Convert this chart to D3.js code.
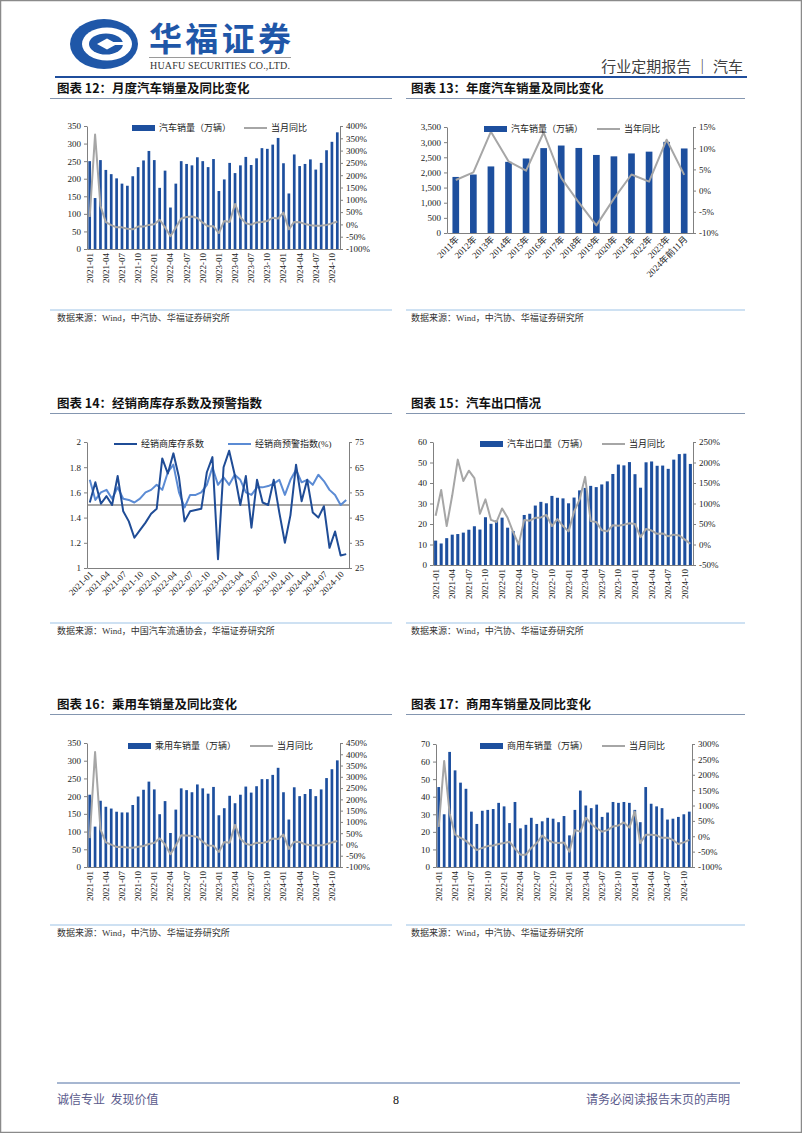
<!DOCTYPE html>
<html><head><meta charset="utf-8">
<script src="https://cdn.jsdelivr.net/npm/d3@7/dist/d3.min.js"></script>
<style>
body{margin:0;background:#fff;}
svg{display:block;}
text{font-family:"Liberation Serif","Times New Roman","Noto Sans CJK SC",serif;}
.cjk{font-family:"Noto Sans CJK SC","Liberation Serif",sans-serif;}
</style></head><body>
<svg id="page" width="802" height="1133"></svg>
<script>
// ---------------- DATA ----------------
const months = [
"2021-01","2021-02","2021-03","2021-04","2021-05","2021-06","2021-07","2021-08","2021-09","2021-10","2021-11","2021-12",
"2022-01","2022-02","2022-03","2022-04","2022-05","2022-06","2022-07","2022-08","2022-09","2022-10","2022-11","2022-12",
"2023-01","2023-02","2023-03","2023-04","2023-05","2023-06","2023-07","2023-08","2023-09","2023-10","2023-11","2023-12",
"2024-01","2024-02","2024-03","2024-04","2024-05","2024-06","2024-07","2024-08","2024-09","2024-10","2024-11"];
const monthTickLabels = ["2021-01","2021-04","2021-07","2021-10","2022-01","2022-04","2022-07","2022-10",
"2023-01","2023-04","2023-07","2023-10","2024-01","2024-04","2024-07","2024-10"];

// Chart 12: monthly auto sales (10k units) and YoY (%)
const autoSales = [250,145,253,225,213,201,186,180,207,233,252,279,
253,174,223,118,186,250,242,238,261,250,233,256,
165,198,245,216,238,262,239,258,287,285,297,316,
244,158,269,236,242,255,226,245,281,305,332];
const autoYoy = [30,365,75,9,-3,-12,-12,-18,-20,-9,-9,-2,
1,19,-12,-48,-13,24,30,32,26,7,-8,-8,
-35,14,10,83,28,5,-1,8,10,14,27,24,
48,-20,10,9,2,-3,-5,-5,-2,4,12];

// Chart 13: annual auto sales and YoY
const years = ["2011年","2012年","2013年","2014年","2015年","2016年","2017年","2018年","2019年","2020年","2021年","2022年","2023年","2024年前11月"];
const annualSales = [1851,1931,2198,2349,2460,2803,2888,2808,2577,2531,2627,2686,3009,2791];
const annualYoy = [2.5,4.3,13.9,6.9,4.7,13.7,3.0,-2.8,-8.2,-1.9,3.8,2.1,12.0,3.7];

// Chart 14: dealer inventory coefficient and dealer warning index
const invCoef = [1.52,1.68,1.51,1.57,1.50,1.73,1.45,1.37,1.24,1.30,1.36,1.43,
1.47,1.87,1.75,1.91,1.72,1.37,1.45,1.46,1.47,1.76,1.88,1.07,
1.80,1.93,1.74,1.50,1.73,1.32,1.70,1.52,1.50,1.70,1.44,1.20,
1.42,1.82,1.53,1.70,1.44,1.40,1.49,1.16,1.29,1.10,1.11];
const warnIdx = [60,52,55,56,52.5,57,52.5,52,51,52.5,55,56,
58,56,63,66,55,49,54,54,55,58,65,58,
61,58,62,60,55,54,57,57,57.5,58.5,60,54,
60,64,59,60,58,62,59.5,56,54,50,52];
const warnLine = 1.5;

// Chart 15: exports
const exportVol = [11.9,10.5,13.1,14.8,15.1,15.8,17.2,18.9,17.3,23.3,20.1,21.7,
23.1,18.2,16.6,11.5,24.4,25.0,29.0,30.8,30.1,33.7,32.8,32.5,
30.1,32.9,36.4,37.6,38.6,38.0,39.3,40.8,44.4,49.0,48.6,50.2,
44.3,37.7,50.1,50.5,48.4,48.5,46.9,51.4,54.1,54.3,49.3];
const exportYoy = [70,133,45,120,207,155,180,162,75,110,60,55,
88,65,30,0,60,58,65,66,72,45,62,45,
32,80,110,165,57,55,35,32,47,46,48,52,
50,18,38,34,26,27,20,24,22,12,2];

// Chart 16: passenger vehicles
const pvSales = [204,114,187,170,165,156,154,154,175,199,218,241,
219,149,186,96,162,222,217,211,233,222,207,226,
146,166,201,180,204,227,210,228,248,248,260,280,
211,134,225,200,206,220,200,219,251,276,301];
const pvYoy = [28,410,67,9,-1,-11,-10,-14,-15,-10,-7,2,
7,27,0,-43,-5,41,40,38,33,12,-5,-6,
-33,11,8,87,25,3,-3,8,6,12,26,24,
44,-20,12,11,1,-3,-5,-4,1,9,15];

// Chart 17: commercial vehicles
const cvSales = [45.5,30,65.5,55,48,44.5,31.5,24.5,32,32.5,33,36.5,
34.5,25,37,22,24,28,24.5,26,28,27.5,25.5,29,
18,32.5,43.5,35,33.5,35.5,28.5,31,37,36.5,37,36.5,
32.5,25.5,45.5,36,34.5,33.5,27,27.5,28.5,30,31.5];
const cvYoy = [30,245,75,5,-5,-15,-30,-45,-38,-32,-30,-25,
-22,-18,-40,-60,-60,-38,-22,2,-13,-20,-22,-20,
-50,20,15,60,40,26,15,20,32,35,45,28,
80,-22,5,5,3,-5,-5,-12,-25,-20,-12];

// tick values
const ticks0to350 = [0,50,100,150,200,250,300,350];
const ticksYoy12 = [-100,-50,0,50,100,150,200,250,300,350,400];
const ticksAnnual = [0,500,1000,1500,2000,2500,3000,3500];
const ticksAnnualYoy = [-10,-5,0,5,10,15];
const ticksCoef = [1,1.2,1.4,1.6,1.8,2];
const ticksWarn = [25,35,45,55,65,75];
const ticksExport = [0,10,20,30,40,50,60];
const ticksExportYoy = [-50,0,50,100,150,200,250];
const ticksPvYoy = [-100,-50,0,50,100,150,200,250,300,350,400,450];
const ticksCv = [0,10,20,30,40,50,60,70];
const ticksCvYoy = [-100,-50,0,50,100,150,200,250,300];

// ---------------- STYLE ----------------
const BAR = "#1d4f9e", GREY_LINE = "#a6a6a6", AXIS = "#808080", TXT = "#222";
const DARK_LINE = "#1f4c96", LIGHT_LINE = "#5b8bd4";

const svg = d3.select("#page");
svg.append("rect").attr("x",0.5).attr("y",0.5).attr("width",801).attr("height",1132)
  .attr("fill","#fff").attr("stroke","#8a8a8a").attr("stroke-width",1.5);

// ---------------- HEADER ----------------
const hdr = svg.append("g");
// logo
hdr.append("ellipse").attr("cx",104).attr("cy",44).attr("rx",34).attr("ry",25).attr("fill","#1f57a8");
hdr.append("ellipse").attr("cx",107).attr("cy",44).attr("rx",25).attr("ry",16.5).attr("fill","#fff");
hdr.append("ellipse").attr("cx",106).attr("cy",44).attr("rx",17).attr("ry",10.5).attr("fill","#1f57a8");
hdr.append("path").attr("d","M97,44 L107,38.5 L117,44 L107,49.5 Z").attr("fill","#fff");
hdr.append("rect").attr("x",107).attr("y",42).attr("width",17).attr("height",3).attr("fill","#fff");
hdr.append("text").attr("class","cjk").attr("x",149).attr("y",51).attr("font-size",33).attr("font-weight",700)
  .attr("fill","#1f57a8").attr("textLength",142).text("华福证券");
hdr.append("line").attr("x1",149).attr("x2",291).attr("y1",57.5).attr("y2",57.5).attr("stroke","#9a9a9a").attr("stroke-width",1);
hdr.append("text").attr("x",150).attr("y",68.5).attr("font-size",10).attr("fill","#333")
  .attr("textLength",140).text("HUAFU SECURITIES CO.,LTD.");
hdr.append("text").attr("class","cjk").attr("x",743).attr("y",72).attr("text-anchor","end").attr("font-size",15)
  .attr("fill","#404040").text("行业定期报告 ｜ 汽车");
hdr.append("line").attr("x1",55).attr("x2",747).attr("y1",77).attr("y2",77).attr("stroke","#1f4e9c").attr("stroke-width",2);

// ---------------- SECTION TITLES / SOURCES ----------------
function section(x0,x1,tx,ty,title,srcY,src){
  svg.append("text").attr("class","cjk").attr("x",tx).attr("y",ty).attr("font-size",12.5).attr("font-weight",700)
    .attr("fill","#111").text(title);
  svg.append("line").attr("x1",x0).attr("x2",x1).attr("y1",ty+5.5).attr("y2",ty+5.5).attr("stroke","#8496b0").attr("stroke-width",1);
  svg.append("line").attr("x1",x0).attr("x2",x1).attr("y1",srcY).attr("y2",srcY).attr("stroke","#9dc3e6").attr("stroke-width",1);
  svg.append("text").attr("x",tx).attr("y",srcY+11).attr("font-size",9).attr("fill","#333").text(src);
}
const SRC = "数据来源：Wind，中汽协、华福证券研究所";
section(50,392,57,93,"图表 12：月度汽车销量及同比变化",310,SRC);
section(406,745,411,93,"图表 13：年度汽车销量及同比变化",310,SRC);
section(50,392,57,408,"图表 14：经销商库存系数及预警指数",623,"数据来源：Wind，中国汽车流通协会，华福证券研究所");
section(406,745,411,408,"图表 15：汽车出口情况",623,SRC);
section(50,392,57,709,"图表 16：乘用车销量及同比变化",925,SRC);
section(406,745,411,709,"图表 17：商用车销量及同比变化",925,SRC);

// ---------------- FOOTER ----------------
svg.append("line").attr("x1",57).attr("x2",740).attr("y1",1083).attr("y2",1083).attr("stroke","#4f6fa3").attr("stroke-width",1);
svg.append("text").attr("class","cjk").attr("x",57).attr("y",1104).attr("font-size",12).attr("fill","#5a5a8c").text("诚信专业\u00a0\u00a0发现价值");
svg.append("text").attr("x",396).attr("y",1104).attr("font-size",12).attr("fill","#111").attr("text-anchor","middle").text("8");
svg.append("text").attr("class","cjk").attr("x",730).attr("y",1104).attr("font-size",12).attr("fill","#5a5a8c").attr("text-anchor","end").text("请务必阅读报告末页的声明");

// ---------------- CHART HELPERS ----------------
function styleAxis(sel){
  sel.select(".domain").attr("stroke",AXIS).attr("stroke-width",1);
  sel.selectAll(".tick line").attr("stroke",AXIS);
  sel.selectAll(".tick text").attr("fill",TXT).attr("font-size",9).attr("font-family",'"Liberation Serif",serif');
}

function chart(cfg){
  const g = svg.append("g");
  const x = d3.scaleBand().domain(cfg.cats).range([cfg.L,cfg.R]).paddingInner(cfg.pad).paddingOuter(cfg.padOuter);
  const cx = d => x(d) + x.bandwidth()/2;
  const yL = d3.scaleLinear().domain(cfg.lDom).range([cfg.B,cfg.T]);
  const yR = d3.scaleLinear().domain(cfg.rDom).range([cfg.B,cfg.T]);

  if(cfg.bars){
    g.append("g").selectAll("rect").data(cfg.bars).join("rect")
      .attr("x",(d,i)=>x(cfg.cats[i])).attr("width",x.bandwidth())
      .attr("y",d=>yL(d)).attr("height",d=>yL(cfg.lDom[0])-yL(d)).attr("fill",BAR);
  }
  if(cfg.hline!==undefined){
    g.append("line").attr("x1",cfg.L).attr("x2",cfg.R).attr("y1",yL(cfg.hline)).attr("y2",yL(cfg.hline))
      .attr("stroke","#a6a6a6").attr("stroke-width",2);
  }
  (cfg.lines||[]).forEach(ln=>{
    const sc = ln.axis==="left"?yL:yR;
    const path = d3.line().x((d,i)=>cx(cfg.cats[i])).y(d=>sc(d));
    g.append("path").datum(ln.data).attr("d",path).attr("fill","none")
      .attr("stroke",ln.color).attr("stroke-width",ln.width||2).attr("stroke-linejoin","round");
  });

  const axL = g.append("g").attr("transform",`translate(${cfg.L},0)`)
    .call(d3.axisLeft(yL).tickValues(cfg.lTicks).tickSize(3).tickSizeOuter(0).tickPadding(3).tickFormat(cfg.lFmt));
  styleAxis(axL);
  const axR = g.append("g").attr("transform",`translate(${cfg.R},0)`)
    .call(d3.axisRight(yR).tickValues(cfg.rTicks).tickSize(3).tickSizeOuter(0).tickPadding(3).tickFormat(cfg.rFmt));
  styleAxis(axR);
  const axB = g.append("g").attr("transform",`translate(0,${cfg.B})`)
    .call(d3.axisBottom(x).tickValues(cfg.xLabels).tickSize(0).tickSizeOuter(0).tickFormat(""));
  axB.select(".domain").attr("stroke",AXIS);
  axB.selectAll(".tick line").remove();
  // x labels
  g.append("g").selectAll("text").data(cfg.xLabels).join("text")
    .attr("transform",d=>`translate(${cx(d)+(cfg.rot===-90?3:2)},${cfg.B+(cfg.rot===-90?4:5)}) rotate(${cfg.rot})`)
    .attr("text-anchor","end").attr("dy",cfg.rot===-90?"0":"0.3em")
    .attr("font-size",cfg.xFont||9).attr("fill",TXT).text(d=>d);

  // legend
  const lg = g.append("g");
  cfg.legend.forEach(it=>{
    if(it.type==="bar"){
      lg.append("rect").attr("x",it.x).attr("y",cfg.legY-3).attr("width",23).attr("height",6).attr("fill",BAR);
    } else {
      lg.append("line").attr("x1",it.x).attr("x2",it.x+23).attr("y1",cfg.legY).attr("y2",cfg.legY)
        .attr("stroke",it.color).attr("stroke-width",2);
    }
    lg.append("text").attr("x",it.x+27).attr("y",cfg.legY).attr("dy","0.35em")
      .attr("font-size",9).attr("fill",TXT).text(it.text);
  });
}

const pct = d=>d+"%";

// Chart 12
chart({cats:months,L:87,R:340,T:126,B:249,pad:0.5,padOuter:0.25,
  bars:autoSales,lDom:[0,350],lTicks:ticks0to350,lFmt:d=>d,
  rDom:[-100,400],rTicks:ticksYoy12,rFmt:pct,
  lines:[{data:autoYoy,axis:"right",color:GREY_LINE}],
  xLabels:monthTickLabels,rot:-90,
  legY:128,legend:[{type:"bar",x:132,text:"汽车销量（万辆）"},{type:"line",x:244,color:GREY_LINE,text:"当月同比"}]});

// Chart 13
chart({cats:years,L:447,R:693,T:127,B:233,pad:0.62,padOuter:0.31,
  bars:annualSales,lDom:[0,3500],lTicks:ticksAnnual,lFmt:d3.format(","),
  rDom:[-10,15],rTicks:ticksAnnualYoy,rFmt:pct,
  lines:[{data:annualYoy,axis:"right",color:GREY_LINE}],
  xLabels:years,rot:-45,xFont:9,
  legY:129,legend:[{type:"bar",x:484,text:"汽车销量（万辆）"},{type:"line",x:597,color:GREY_LINE,text:"当年同比"}]});

// Chart 14
chart({cats:months,L:87,R:349,T:442,B:568,pad:0,padOuter:0,
  lDom:[1,2],lTicks:ticksCoef,lFmt:d=>d,
  rDom:[25,75],rTicks:ticksWarn,rFmt:d=>d,
  hline:warnLine,
  lines:[{data:warnIdx,axis:"right",color:LIGHT_LINE},{data:invCoef,axis:"left",color:DARK_LINE}],
  xLabels:monthTickLabels,rot:-45,xFont:9,
  legY:444,legend:[{type:"line",x:114,color:DARK_LINE,text:"经销商库存系数"},{type:"line",x:228,color:LIGHT_LINE,text:"经销商预警指数(%)"}]});

// Chart 15
chart({cats:months,L:433,R:693,T:442,B:565,pad:0.45,padOuter:0.2,
  bars:exportVol,lDom:[0,60],lTicks:ticksExport,lFmt:d=>d,
  rDom:[-50,250],rTicks:ticksExportYoy,rFmt:pct,
  lines:[{data:exportYoy,axis:"right",color:GREY_LINE}],
  xLabels:monthTickLabels,rot:-90,
  legY:444,legend:[{type:"bar",x:480,text:"汽车出口量（万辆）"},{type:"line",x:602,color:GREY_LINE,text:"当月同比"}]});

// Chart 16
chart({cats:months,L:87,R:340,T:743,B:867,pad:0.5,padOuter:0.25,
  bars:pvSales,lDom:[0,350],lTicks:ticks0to350,lFmt:d=>d,
  rDom:[-100,450],rTicks:ticksPvYoy,rFmt:pct,
  lines:[{data:pvYoy,axis:"right",color:GREY_LINE}],
  xLabels:monthTickLabels,rot:-90,
  legY:746,legend:[{type:"bar",x:128,text:"乘用车销量（万辆）"},{type:"line",x:250,color:GREY_LINE,text:"当月同比"}]});

// Chart 17
chart({cats:months,L:436,R:692,T:744,B:867,pad:0.5,padOuter:0.25,
  bars:cvSales,lDom:[0,70],lTicks:ticksCv,lFmt:d=>d,
  rDom:[-100,300],rTicks:ticksCvYoy,rFmt:pct,
  lines:[{data:cvYoy,axis:"right",color:GREY_LINE}],
  xLabels:monthTickLabels,rot:-90,
  legY:746,legend:[{type:"bar",x:480,text:"商用车销量（万辆）"},{type:"line",x:602,color:GREY_LINE,text:"当月同比"}]});
</script>
</body></html>
